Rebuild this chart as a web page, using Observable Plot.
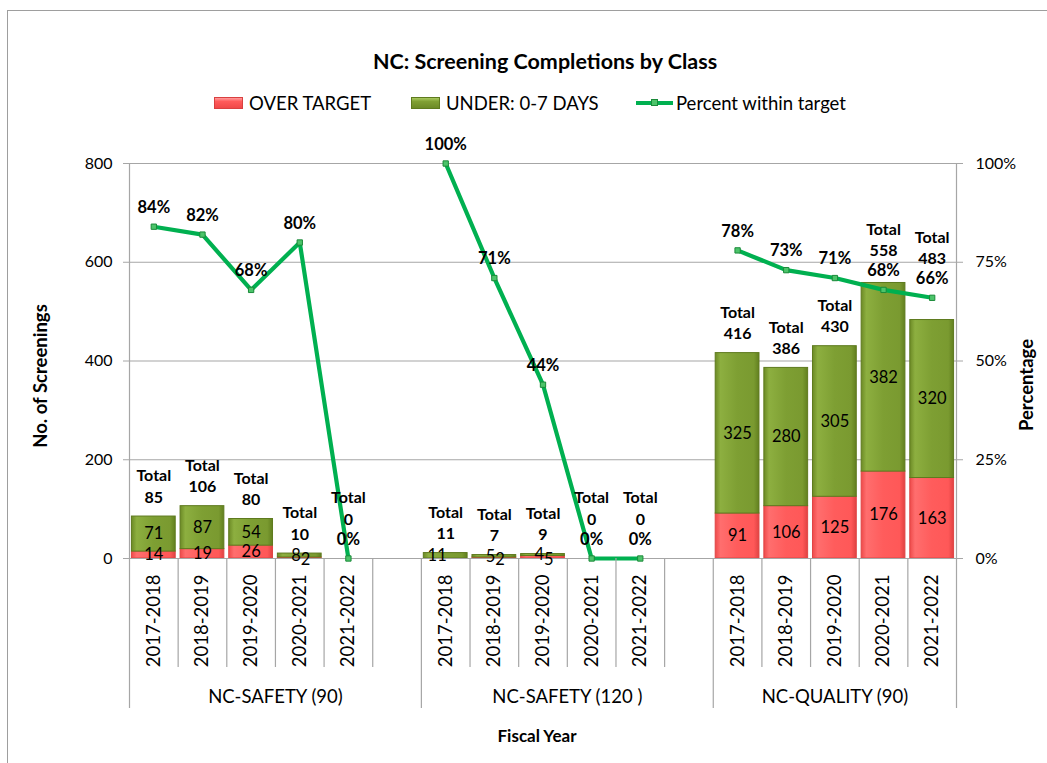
<!DOCTYPE html>
<html><head><meta charset="utf-8">
<script src="https://cdn.jsdelivr.net/npm/d3@7"></script>
<script src="https://cdn.jsdelivr.net/npm/@observablehq/plot@0.6"></script>
<style>
html,body{margin:0;padding:0;background:#fff;overflow:hidden;}
#wrap{position:relative;width:1047px;height:763px;font-family:Lato,"Open Sans",sans-serif;color:#000;overflow:hidden;}
#frame{position:absolute;left:7px;top:10px;width:1100px;height:800px;border:1.5px solid #9E9E9E;box-sizing:border-box;}
#title{position:absolute;left:0;width:1090px;top:48px;line-height:26px;text-align:center;font-weight:700;font-size:21.5px;}
.li{position:absolute;top:92px;height:22px;display:flex;align-items:center;font-size:18.5px;white-space:nowrap;}
.sw{width:29px;height:12px;margin-right:6px;box-sizing:border-box;}
.ln{position:relative;width:37px;height:4px;background:#00B050;margin-right:3px;}
.ln span{position:absolute;left:15px;top:-2px;width:7px;height:7px;background:#4CC46A;border:1px solid #1B8A3A;box-sizing:border-box;}
.at{position:absolute;font-weight:700;font-size:18.5px;white-space:nowrap;transform:translate(-50%,-50%) rotate(-90deg);}
#xt{position:absolute;left:537px;top:735px;transform:translate(-50%,-50%);font-weight:700;font-size:17px;white-space:nowrap;}
#plot{position:absolute;left:0;top:0;}
</style></head>
<body>
<div id="wrap">
  <div id="frame"></div>
  <div id="title">NC: Screening Completions by Class</div>
  <div class="li" style="left:214px"><div class="sw" style="background:linear-gradient(#FF9C9C,#FF5A5A 35%,#F04848);border:1px solid #D94040"></div>OVER TARGET</div>
  <div class="li" style="left:411px"><div class="sw" style="background:linear-gradient(#A8C85E,#80A034 35%,#6C8A26);border:1px solid #5E7A1E"></div>UNDER: 0-7 DAYS</div>
  <div class="li" style="left:636px"><div class="ln"><span></span></div>Percent within target</div>
  <div class="at" style="left:40px;top:376px">No. of Screenings</div>
  <div class="at" style="left:1026px;top:385px">Percentage</div>
  <div id="xt">Fiscal Year</div>
  <div id="plot"></div>
</div>
<script>
const groups = ["NC-SAFETY (90)", "NC-SAFETY (120 )", "NC-QUALITY (90)"];
const years = ["2017-2018", "2018-2019", "2019-2020", "2020-2021", "2021-2022"];
const overTarget = [[14, 19, 26, 2, 0], [0, 2, 5, 0, 0], [91, 106, 125, 176, 163]];
const underTarget = [[71, 87, 54, 8, 0], [11, 5, 4, 0, 0], [325, 280, 305, 382, 320]];
const percentWithin = [[84, 82, 68, 80, 0], [100, 71, 44, 0, 0], [78, 73, 71, 68, 66]];
const leftTicks = [0, 200, 400, 600, 800];
const rightTickLabels = ["0%", "25%", "50%", "75%", "100%"];

const slotsPerGroup = years.length + 1;
const rows = [];
groups.forEach((g, gi) => years.forEach((y, yi) => {
  const over = overTarget[gi][yi], under = underTarget[gi][yi];
  rows.push({group: g, year: y, i: gi * slotsPerGroup + yi, over, under, total: over + under, pct: percentWithin[gi][yi]});
}));
const yMax = leftTicks[leftTicks.length - 1];
const pctY = p => p / 100 * yMax;
const half = 0.45;
const lastSlot = rows[rows.length - 1].i;
const groupStart = gi => gi * slotsPerGroup - 0.5;
const groupEnd = gi => gi === groups.length - 1 ? lastSlot + 0.5 : (gi + 1) * slotsPerGroup - 0.5;
const longTicks = [...groups.map((g, gi) => groupStart(gi)), lastSlot + 0.5];
const shortTicks = rows.map(r => r.i + 0.5).filter(v => !longTicks.includes(v));
const groupCenters = groups.map((g, gi) => (groupStart(gi) + groupEnd(gi)) / 2);
const overlap = r => { const d = pctY(r.pct) - r.total; return d > -38 && d < 87; };
const small = r => r.total < 20;
const grid = "#A6A6A6";

const chart = Plot.plot({
  width: 1047, height: 763,
  marginTop: 163, marginBottom: 205, marginLeft: 129, marginRight: 91,
  style: {fontFamily: "Lato, 'Open Sans', sans-serif", background: "transparent", overflow: "visible", color: "#000"},
  x: {type: "linear", domain: [-0.5, lastSlot + 0.5]},
  y: {domain: [0, yMax]},
  marks: [
    Plot.ruleY(leftTicks.slice(1), {stroke: grid, strokeWidth: 1.2}),
    Plot.rectY(rows.filter(r => r.over > 0), {x1: r => r.i - half, x2: r => r.i + half, y1: 0, y2: "over", fill: "url(#gRed)", stroke: "#E04545", strokeWidth: 1}),
    Plot.rectY(rows.filter(r => r.under > 0), {x1: r => r.i - half, x2: r => r.i + half, y1: "over", y2: "total", fill: "url(#gGreen)", stroke: "#5E7A1E", strokeWidth: 1}),
    Plot.ruleX([-0.5, lastSlot + 0.5], {y1: 0, y2: yMax, stroke: grid, strokeWidth: 1.2}),
    Plot.ruleY([0], {stroke: grid, strokeWidth: 1.2}),
    Plot.line(rows, {x: "i", y: r => pctY(r.pct), z: "group", stroke: "#00B050", strokeWidth: 4.2}),
    Plot.dot(rows, {x: "i", y: r => pctY(r.pct), symbol: "square", r: 3, fill: "#4CC46A", stroke: "#1B8A3A", strokeWidth: 1}),
    // segment labels
    Plot.text(rows.filter(r => !small(r) && r.under > 0), {x: "i", y: r => r.over + r.under / 2, text: "under", fontSize: 16.5}),
    Plot.text(rows.filter(r => !small(r) && r.over > 0), {x: "i", y: r => r.over / 2, text: "over", fontSize: 16.5}),
    Plot.text(rows.filter(r => small(r) && r.under > 0), {x: "i", y: r => r.over + r.under / 2, text: "under", fontSize: 16.5, textAnchor: "end", dx: 1}),
    Plot.text(rows.filter(r => small(r) && r.over > 0), {x: "i", y: r => r.over / 2, text: "over", fontSize: 16.5, textAnchor: "start", dx: 1, dy: 2}),
    // totals
    Plot.text(rows.filter(r => !overlap(r)), {x: "i", y: "total", text: r => `Total\n${r.total}`, lineAnchor: "bottom", lineHeight: 1.33, dy: -14, fontSize: 16, fontWeight: 700}),
    Plot.text(rows.filter(overlap), {x: "i", y: r => pctY(r.pct), text: r => `Total\n${r.total}`, lineAnchor: "bottom", lineHeight: 1.33, dy: -34, fontSize: 16, fontWeight: 700}),
    // percents
    Plot.text(rows, {x: "i", y: r => pctY(r.pct), text: r => `${r.pct}%`, dy: -19, fontSize: 16.5, fontWeight: 700}),
    // axes
    Plot.axisY({ticks: leftTicks, tickSize: 6, tickPadding: 11, fontSize: 16, stroke: grid, label: null}),
    Plot.axisY({anchor: "right", ticks: leftTicks, tickFormat: d => rightTickLabels[leftTicks.indexOf(d)], tickSize: 6, tickPadding: 13, fontSize: 16, stroke: grid, label: null}),
    Plot.axisX({ticks: rows.map(r => r.i), tickFormat: i => rows.find(r => r.i === i).year, tickRotate: -90, tickSize: 0, tickPadding: 16, fontSize: 18.5, label: null}),
    Plot.axisX({ticks: shortTicks, tickFormat: () => "", tickSize: 109, stroke: grid, strokeWidth: 1.2, label: null}),
    Plot.axisX({ticks: longTicks, tickFormat: () => "", tickSize: 150, stroke: grid, strokeWidth: 1.2, label: null}),
    Plot.axisX({ticks: groupCenters, tickFormat: c => groups[groupCenters.indexOf(c)], tickSize: 0, tickPadding: 131, fontSize: 18.5, label: null})
  ]
});

const defs = d3.create("svg:defs");
const addGrad = (id, stops) => {
  const g = defs.append("linearGradient").attr("id", id).attr("x1", 0).attr("x2", 1).attr("y1", 0).attr("y2", 0);
  stops.forEach(([o, c]) => g.append("stop").attr("offset", o).attr("stop-color", c));
};
addGrad("gRed", [["0%", "#EE4A4A"], ["12%", "#FF6E6E"], ["50%", "#FF5C5C"], ["88%", "#FF5858"], ["100%", "#E04242"]]);
addGrad("gGreen", [["0%", "#6C8A26"], ["12%", "#8DAF40"], ["50%", "#7E9F33"], ["88%", "#7A9A30"], ["100%", "#62801F"]]);
chart.insertBefore(defs.node(), chart.firstChild);
document.getElementById("plot").appendChild(chart);
</script>
</body></html>
